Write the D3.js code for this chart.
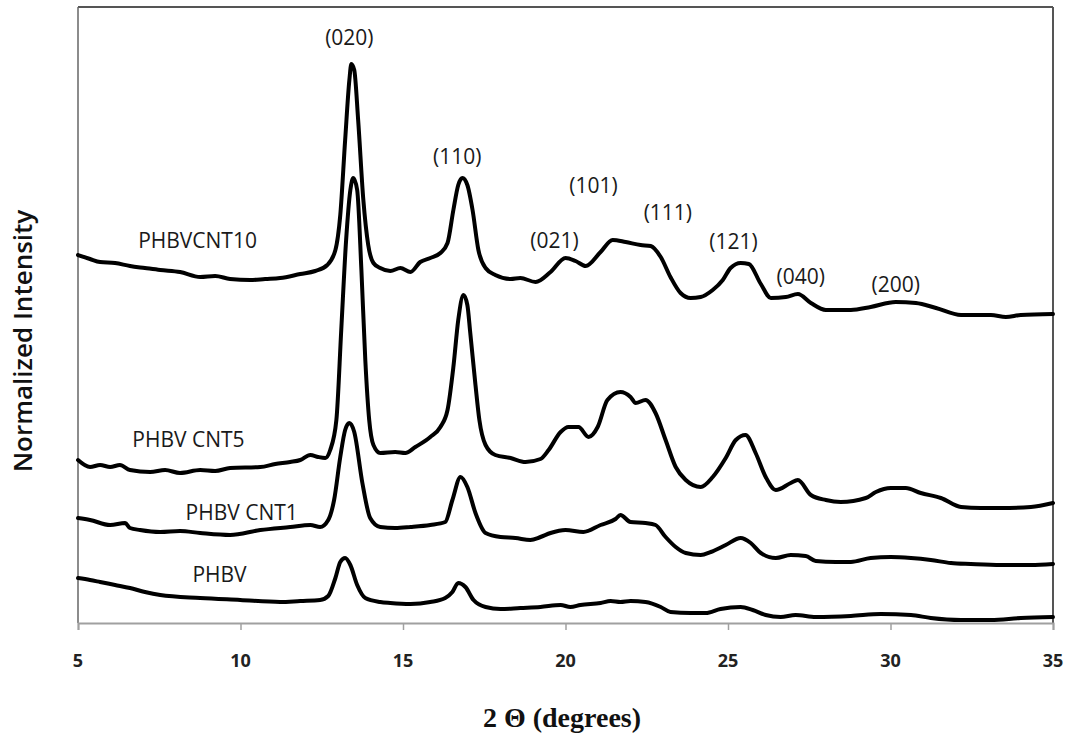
<!DOCTYPE html>
<html>
<head>
<meta charset="utf-8">
<script src="https://cdn.jsdelivr.net/npm/d3@7"></script>
<style>
  body { margin: 0; background: #fff; }
  svg { display: block; }
  .curve { fill: none; stroke: #000; stroke-width: 4; stroke-linejoin: round; stroke-linecap: round; }
  .label { font-family: "Open Sans", sans-serif; font-size: 21px; fill: #1a1a1a; }
  .peak { font-family: "Open Sans", sans-serif; font-size: 21px; fill: #1a1a1a; text-anchor: middle; }
  .tick-label { font-family: "Open Sans", sans-serif; font-size: 18px; font-weight: 700; fill: #222; text-anchor: middle; }
</style>
</head>
<body>
<svg width="1068" height="740"></svg>
<script>
// 2θ (deg), normalized intensity (arb. units)
const phbvCnt10 = [
  [5.00,370],[5.37,366],[5.68,363],[6.14,362],[6.60,359],[7.06,357],[7.53,355],[8.14,353],[8.76,348],
  [9.22,349],[9.68,346],[10.30,345],[10.76,346],[11.22,347],[11.84,351],[12.30,354],[12.67,360],
  [12.92,375],[13.07,410],[13.22,485],[13.35,545],[13.41,561],[13.50,555],[13.62,505],[13.78,425],
  [13.93,380],[14.09,362],[14.30,357],[14.61,354],[14.92,357],[15.23,353],[15.53,363],[15.84,367],
  [16.15,372],[16.37,382],[16.55,415],[16.70,440],[16.83,447],[16.98,440],[17.14,415],[17.32,375],
  [17.54,357],[17.84,350],[18.31,346],[18.61,347],[19.08,343],[19.54,353],[20.00,367],[20.31,364],
  [20.62,359],[21.08,373],[21.45,385],[21.85,383],[22.31,380],[22.62,379],[22.93,368],[23.23,348],
  [23.54,332],[23.85,327],[24.16,328],[24.53,335],[24.84,345],[25.08,357],[25.39,362],[25.64,361],
  [26.01,341],[26.32,327],[26.78,328],[27.15,331],[27.55,322],[28.01,315],[28.78,315],[29.39,318],
  [30.16,323],[30.78,322],[31.40,317],[32.17,310],[33.09,310],[33.55,308],[34.01,310],[35.00,311]
];
const phbvCnt5 = [
  [5.00,165],[5.37,158],[5.68,160],[5.99,158],[6.29,160],[6.60,155],[7.22,153],[7.68,155],[8.14,152],
  [8.76,155],[9.22,154],[9.68,157],[10.61,158],[11.07,161],[11.53,163],[11.84,165],[12.15,170],
  [12.39,168],[12.61,167],[12.76,175],[12.95,205],[13.10,295],[13.25,385],[13.38,435],[13.47,447],
  [13.59,435],[13.72,355],[13.84,265],[13.96,205],[14.09,180],[14.30,172],[14.76,173],[15.07,172],
  [15.38,178],[15.84,188],[16.15,198],[16.37,215],[16.55,258],[16.70,305],[16.86,330],[16.98,320],
  [17.07,292],[17.23,240],[17.35,205],[17.54,180],[17.84,170],[18.31,167],[18.77,163],[19.23,166],
  [19.48,175],[19.85,193],[20.09,198],[20.40,198],[20.71,188],[20.99,198],[21.29,225],[21.69,233],
  [22.00,228],[22.16,222],[22.46,225],[22.77,212],[23.08,185],[23.39,158],[23.70,145],[24.16,138],
  [24.53,148],[24.93,167],[25.24,185],[25.54,190],[25.85,172],[26.16,148],[26.47,135],[26.93,142],
  [27.15,145],[27.55,130],[28.01,125],[28.47,123],[29.24,127],[29.55,133],[30.01,137],[30.47,137],
  [30.93,132],[31.55,127],[32.17,118],[32.78,117],[33.40,117],[34.32,118],[35.00,122]
];
const phbvCnt1 = [
  [5.00,107],[5.37,105],[5.99,100],[6.45,102],[6.60,97],[6.91,95],[7.53,93],[8.14,94],[8.76,92],
  [9.68,90],[10.61,95],[11.53,98],[12.15,100],[12.45,98],[12.70,105],[12.88,125],[13.07,168],
  [13.22,195],[13.35,202],[13.50,193],[13.75,142],[13.99,107],[14.30,98],[14.76,97],[15.23,98],
  [15.84,100],[16.30,103],[16.52,125],[16.77,148],[16.98,138],[17.23,112],[17.54,92],[18.00,88],
  [18.46,87],[18.92,85],[19.23,88],[19.54,92],[20.00,95],[20.55,93],[21.08,100],[21.54,106],
  [21.69,110],[22.00,103],[22.46,102],[22.77,100],[23.08,88],[23.39,78],[23.70,72],[24.16,70],
  [24.47,73],[24.93,80],[25.39,87],[25.70,82],[26.01,72],[26.47,67],[26.93,70],[27.39,69],
  [27.70,64],[28.32,63],[28.78,63],[29.39,67],[30.01,68],[30.63,67],[31.24,65],[31.86,62],
  [32.47,61],[33.40,60],[34.32,60],[35.00,61]
];
const phbv = [
  [5.00,47],[5.37,45],[5.68,43],[6.14,40],[6.60,37],[7.06,33],[7.53,30],[8.76,27],[9.99,25],
  [11.22,23],[11.84,24],[12.45,25],[12.70,29],[12.92,47],[13.07,63],[13.22,67],[13.38,60],
  [13.59,40],[13.84,27],[14.30,23],[14.61,22],[15.23,21],[15.84,23],[16.30,27],[16.52,33],
  [16.70,42],[16.92,38],[17.17,25],[17.54,18],[18.00,16],[18.61,17],[19.23,18],[19.85,20],
  [20.15,18],[20.46,20],[21.08,22],[21.39,24],[21.69,23],[22.00,24],[22.46,23],[22.93,18],
  [23.23,13],[23.85,12],[24.31,12],[24.77,16],[25.39,18],[25.76,15],[26.16,10],[26.62,8],
  [27.08,10],[27.70,8],[28.78,9],[29.70,11],[30.63,10],[31.24,7],[32.17,5],[33.09,5],[34.01,7],[35.00,8]
];

const seriesNames = ['PHBVCNT10', 'PHBV CNT5', 'PHBV CNT1', 'PHBV'];
const seriesData = [phbvCnt10, phbvCnt5, phbvCnt1, phbv];
// where each curve name sits: [2θ, intensity]
const seriesLabelPos = [[6.85, 377], [6.67, 178], [8.31, 105], [8.52, 43]];

const peakLabels = ['(020)', '(110)', '(101)', '(111)', '(021)', '(121)', '(040)', '(200)'];
const peakPos = [[13.35, 580], [16.67, 461], [20.86, 432], [23.15, 405], [19.66, 377], [25.17, 376], [27.24, 341], [30.16, 333]];

const xTicks = [5, 10, 15, 20, 25, 30, 35];

const svg = d3.select('svg');
const plotLeft = 78, plotRight = 1053, plotTop = 7, plotBottom = 623;

const x = d3.scaleLinear().domain([5, 35]).range([plotLeft, plotRight]);
const y = d3.scaleLinear().domain([2, 618]).range([plotBottom, plotTop]);

// plot frame
svg.append('line').attr('x1', plotLeft).attr('x2', plotRight).attr('y1', plotTop).attr('y2', plotTop)
  .attr('stroke', '#555').attr('stroke-width', 2);
svg.append('line').attr('x1', plotLeft).attr('x2', plotLeft).attr('y1', plotTop).attr('y2', plotBottom)
  .attr('stroke', '#666').attr('stroke-width', 1.5);
svg.append('line').attr('x1', plotRight).attr('x2', plotRight).attr('y1', plotTop).attr('y2', plotBottom)
  .attr('stroke', '#555').attr('stroke-width', 2);

// x axis
const xAxis = svg.append('g')
  .attr('transform', `translate(0,${plotBottom})`)
  .call(d3.axisBottom(x).tickValues(xTicks).tickSize(7).tickFormat(''));
xAxis.select('.domain').attr('stroke', '#a0a0a0').attr('stroke-width', 2);
xAxis.selectAll('.tick line').attr('stroke', '#a0a0a0').attr('stroke-width', 1.5);

svg.selectAll('.tick-label')
  .data(xTicks)
  .enter()
  .append('text')
  .attr('class', 'tick-label')
  .attr('x', d => x(d))
  .attr('y', 667)
  .text(d => d);

// curves
const line = d3.line()
  .x(d => x(d[0]))
  .y(d => y(d[1]))
  .curve(d3.curveMonotoneX);

svg.selectAll('.curve')
  .data(seriesData)
  .enter()
  .append('path')
  .attr('class', 'curve')
  .attr('d', line);

svg.selectAll('.label')
  .data(seriesNames)
  .enter()
  .append('text')
  .attr('class', 'label')
  .attr('x', (d, i) => x(seriesLabelPos[i][0]))
  .attr('y', (d, i) => y(seriesLabelPos[i][1]))
  .text(d => d);

svg.selectAll('.peak')
  .data(peakLabels)
  .enter()
  .append('text')
  .attr('class', 'peak')
  .attr('x', (d, i) => x(peakPos[i][0]))
  .attr('y', (d, i) => y(peakPos[i][1]))
  .text(d => d);

// axis titles
svg.append('text')
  .attr('transform', 'translate(32,341) rotate(-90)')
  .attr('text-anchor', 'middle')
  .style('font-family', '"Open Sans", sans-serif')
  .style('font-size', '26px')
  .style('font-weight', 600)
  .style('fill', '#111')
  .text('Normalized Intensity');

svg.append('text')
  .attr('x', 562)
  .attr('y', 727)
  .attr('text-anchor', 'middle')
  .style('font-family', '"Liberation Serif", serif')
  .style('font-size', '28px')
  .style('font-weight', 700)
  .style('fill', '#111')
  .text('2 Θ (degrees)');
</script>
</body>
</html>
